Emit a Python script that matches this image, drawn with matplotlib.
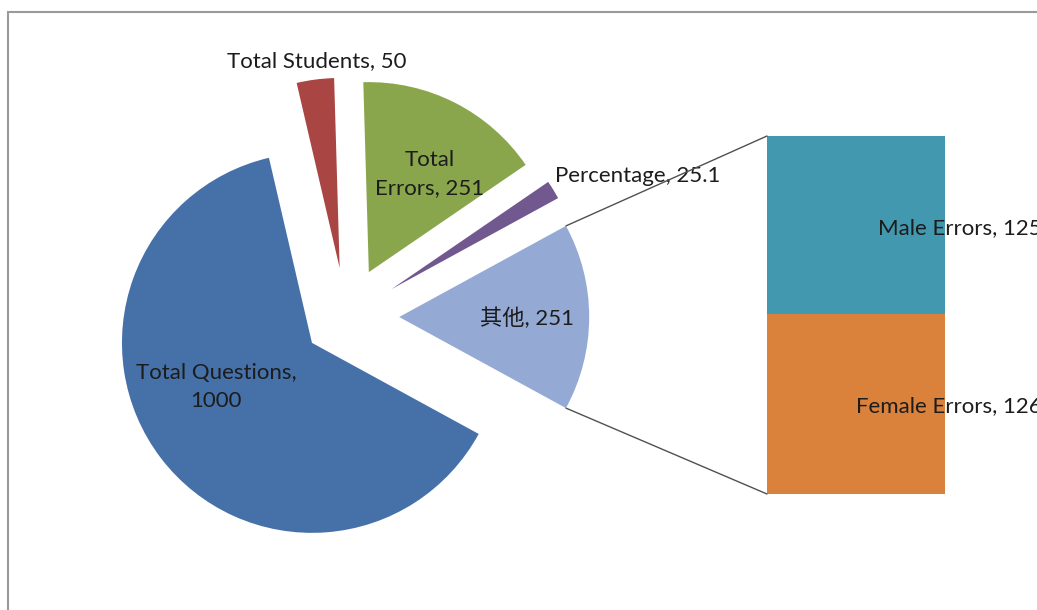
import matplotlib
matplotlib.use("Agg")
import matplotlib.pyplot as plt
from matplotlib.patches import ConnectionPatch, Rectangle
import numpy as np

# ---------------- data ----------------
pie_labels = ["Total Questions", "Total Students", "Total Errors", "Percentage", "其他"]
pie_values = [1000, 50, 251, 25.1, 251]
bar_labels = ["Female Errors", "Male Errors"]
bar_values = [126, 125]

# ---------------- style ----------------
W, H = 1037, 610
DPI = 100
pie_colors = ["#4571A8", "#A94542", "#8AA64C", "#71588F", "#94AAD4"]
bar_colors = ["#DA823C", "#4298AF"]
explode = [0.225, 0.26, 0.265, 0.28, 0.28]
FONT = ["Lato", "Noto Sans CJK SC", "DejaVu Sans"]
FS = 16
TXT = "#1c1c1c"

plt.rcParams["font.family"] = FONT

fig = plt.figure(figsize=(W / DPI, H / DPI), dpi=DPI)
fig.patch.set_facecolor("white")

def fx(x):
    return x / W

def fy(y):
    return 1 - y / H

# pie axes: centre (346, 317) px, radius 190 px
cx, cy, R, half = 346, 317, 190, 300
ax = fig.add_axes([(cx - half) / W, (H - cy - half) / H, 2 * half / W, 2 * half / H])
startangle = -(pie_values[-1] / sum(pie_values)) * 360 / 2
wedges, _ = ax.pie(pie_values, colors=pie_colors, explode=explode, startangle=startangle,
                   counterclock=False, radius=1, wedgeprops=dict(linewidth=0))
lim = half / R
ax.set_xlim(-lim, lim)
ax.set_ylim(-lim, lim)
ax.set_aspect("equal")
ax.axis("off")

# bar axes (pie-of-bar)
bx0, bx1, by0, by1 = 767, 945, 136, 494
bax = fig.add_axes([bx0 / W, (H - by1) / H, (bx1 - bx0) / W, (by1 - by0) / H])
bottom = 0
for lab, v, c in zip(bar_labels, bar_values, bar_colors):
    bax.bar(0, v, width=1, bottom=bottom, color=c, linewidth=0)
    bottom += v
bax.set_xlim(-0.5, 0.5)
bax.set_ylim(0, sum(bar_values))
bax.axis("off")

# connector lines from "other" wedge to bar
w = wedges[-1]
wc = np.array(w.center)
for ang, ybar in [(w.theta2, sum(bar_values)), (w.theta1, 0)]:
    p = wc + w.r * np.array([np.cos(np.radians(ang)), np.sin(np.radians(ang))])
    con = ConnectionPatch(xyA=tuple(p), coordsA=ax.transData,
                          xyB=(-0.5, ybar), coordsB=bax.transData,
                          color="#505050", linewidth=1.0, zorder=10)
    fig.add_artist(con)

# labels
def lbl(x, y, s, ha="center"):
    fig.text(fx(x), fy(y), s, ha=ha, va="center", fontsize=FS, color=TXT,
             family=FONT, linespacing=1.45)

lbl(317, 61, f"{pie_labels[1]}, {pie_values[1]:g}")
lbl(430, 174, "Total\nErrors, " + f"{pie_values[2]:g}")
lbl(638, 176, f"{pie_labels[3]}, {pie_values[3]:g}")
lbl(527, 318, f"{pie_labels[4]}, {pie_values[4]:g}")
lbl(216, 387, "Total Questions,\n" + f"{pie_values[0]:g}")
lbl(878, 228, f"{bar_labels[1]}, {bar_values[1]}", ha="left")
lbl(856, 406, f"{bar_labels[0]}, {bar_values[0]}", ha="left")

# chart border (top and left visible)
fig.add_artist(Rectangle((fx(8), fy(640)), fx(1080), fy(12) - fy(640),
                         transform=fig.transFigure, fill=False,
                         edgecolor="#9a9a9a", linewidth=1.5))

fig.savefig("out.png", dpi=DPI, facecolor="white")
